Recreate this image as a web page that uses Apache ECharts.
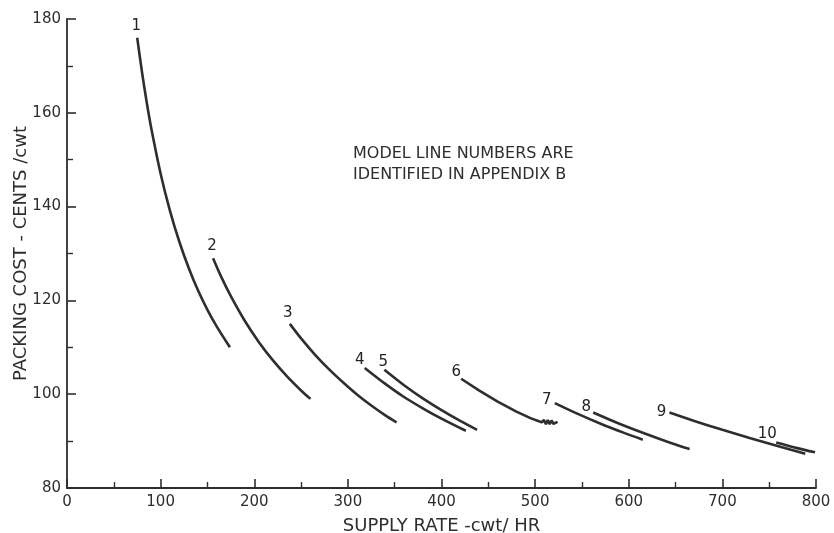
<!DOCTYPE html>
<html>
<head>
<meta charset="utf-8">
<script src="https://cdn.jsdelivr.net/npm/echarts@6/dist/echarts.min.js"></script>
<style>
html,body{margin:0;padding:0;background:#fff;overflow:hidden;}
#chart{width:834px;height:533px;}
</style>
</head>
<body>
<div id="chart"></div>
<script>
// Model line numbers
const lineNames = ['1','2','3','4','5','6','7','8','9','10'];
// [supply rate cwt/hr, packing cost cents/cwt]
const line1 = [[75,176],[80,168.8],[85,162.4],[90,156.7],[100,147],[110,139.1],[120,132.5],[130,126.9],[140,122.1],[150,118],[160,114.4],[174,110]];
const line2 = [[156,129],[165,124.9],[175,120.9],[190,115.6],[205,111.1],[220,107.2],[235,103.8],[250,100.8],[260,99]];
const line3 = [[238,115],[250,111.9],[265,108.4],[280,105.3],[295,102.5],[310,99.9],[325,97.6],[340,95.5],[352,94]];
const line4 = [[318,105.6],[340,102.2],[360,99.4],[380,97.0],[400,94.8],[426,92.2]];
const line5 = [[339,105.2],[360,101.9],[380,99.1],[400,96.6],[420,94.3],[438,92.4]];
const line6 = [[421,103.3],[440,100.8],[460,98.4],[480,96.3],[495,94.9],[507,94],[509.5,94.5],[511.5,93.6],[513.5,94.5],[515.5,93.6],[517.5,94.4],[519.5,93.7],[524,94.1]];
const line7 = [[521,98.1],[545,95.85],[570,93.7],[595,91.75],[615,90.3]];
const line8 = [[562,96.1],[590,93.7],[620,91.4],[645,89.6],[665,88.3]];
const line9 = [[643.5,96.1],[670,94.3],[700,92.4],[730,90.6],[760,88.9],[788.5,87.3]];
const line10 = [[757.5,89.7],[780,88.5],[799,87.6]];
const allLines = [line1,line2,line3,line4,line5,line6,line7,line8,line9,line10];

const xTicks = [0,100,200,300,400,500,600,700,800];
const yTicks = [80,100,120,140,160,180];
const noteLines = ['MODEL LINE NUMBERS ARE','IDENTIFIED IN APPENDIX B'];
const xTitle = 'SUPPLY RATE -cwt/ HR';
const yTitle = 'PACKING COST - CENTS /cwt';

// label offsets in px (layout only): label centre relative to each line's first point
const labelOffsets = [[-1,-12],[-1,-12],[-2,-11],[-5,-8],[-1,-8],[-5,-7],[-8,-3],[-7,-5],[-8,0],[-9,-8]];

const ink = '#2e2e2e';
const font = 'DejaVu Sans';

const chart = echarts.init(document.getElementById('chart'), null, {renderer:'canvas'});
const series = allLines.map((d,i)=>({
  type:'line',
  name: lineNames[i],
  data: d,
  showSymbol:false,
  symbol:'none',
  smooth: i===5 ? false : 0.3,
  lineStyle:{color:ink, width:2.6},
  silent:true,
  animation:false
}));
series.push({
  type:'scatter',
  name:'labels',
  symbolSize:0,
  silent:true,
  itemStyle:{color:ink, opacity:1},
  data: allLines.map((d,i)=>({
    value:d[0],
    label:{show:true, formatter:lineNames[i], position:'inside', offset:labelOffsets[i], color:'#222', textBorderWidth:0, opacity:1, fontSize:15, fontFamily:font}
  }))
});

chart.setOption({
  animation:false,
  backgroundColor:'#fff',
  grid:{left:67, right:18, top:19, bottom:45, containLabel:false, outerBoundsMode:'none'},
  xAxis:{
    type:'value', min:0, max:800, interval:100,
    axisLine:{show:true, lineStyle:{color:ink, width:1.8}},
    axisTick:{show:true, inside:true, length:9, lineStyle:{color:ink, width:1.6}},
    minorTick:{show:true, splitNumber:2, length:6, lineStyle:{color:ink, width:1.4}},
    axisLabel:{color:ink, fontSize:15, fontFamily:font, margin:7, formatter:v=> xTicks.includes(v)? String(v):''},
    splitLine:{show:false},
    name:xTitle, nameLocation:'middle', nameGap:29, nameMoveOverlap:false,
    nameTextStyle:{color:ink, fontSize:18, fontFamily:font}
  },
  yAxis:{
    type:'value', min:80, max:180, interval:20,
    axisLine:{show:true, onZero:false, lineStyle:{color:ink, width:1.8}},
    axisTick:{show:true, inside:true, length:9, lineStyle:{color:ink, width:1.6}},
    minorTick:{show:true, splitNumber:2, length:6, lineStyle:{color:ink, width:1.4}},
    axisLabel:{color:ink, fontSize:15, fontFamily:font, margin:6, formatter:v=> yTicks.includes(v)? String(v):''},
    splitLine:{show:false},
    name:yTitle, nameLocation:'middle', nameGap:37, nameRotate:90, nameMoveOverlap:false,
    nameTextStyle:{color:ink, fontSize:18, fontFamily:font}
  },
  graphic:[{
    type:'text', left:353, top:143,
    style:{text:noteLines.join('\n'), fill:ink, font:'16px "DejaVu Sans"', lineHeight:21}
  }],
  series:series
});
</script>
</body>
</html>
